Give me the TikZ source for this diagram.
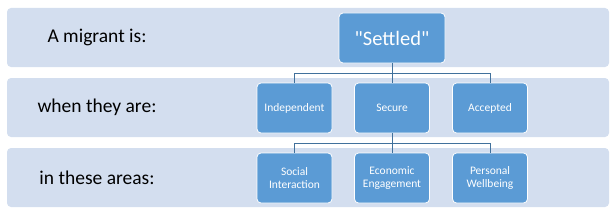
\documentclass[tikz,border=0pt]{standalone}
\usepackage{fontspec}
\setmainfont{Carlito}
\newfontfamily\quotefont{Carlito}
\definecolor{bandblue}{RGB}{211,222,239}
\definecolor{boxblue}{RGB}{91,155,213}
\definecolor{lineblue}{RGB}{65,113,156}
\tikzset{
  band/.style={fill=bandblue,rounded corners=4pt},
  box/.style={draw=white,line width=0.8pt,fill=boxblue,rounded corners=4pt,text=white,
    minimum width=75pt,minimum height=50pt,align=center,font=\fontsize{11.5}{13}\selectfont},
  rowlabel/.style={font=\fontsize{19.5}{22}\selectfont},
  conn/.style={draw=lineblue,line width=0.9pt}
}
\begin{document}
\begin{tikzpicture}[x=1pt,y=1pt]
    \useasboundingbox (0,0) rectangle (615,212);
    \fill[band] (7,145) rectangle (609,204);
    \fill[band] (7,75) rectangle (609,134);
    \fill[band] (7,5) rectangle (609,64);
    \node[rowlabel] (lblmigrant) at (97,174.5) {A migrant is:};
    \node[rowlabel] (lblwhen) at (97,104.5) {when they are:};
    \node[rowlabel] (lblareas) at (97,34.5) {in these areas:};
    \node[box,minimum width=106pt,font=\quotefont\fontsize{20.5}{24}\selectfont] (settled) at (392,174) {"Settled"};
    \node[box] (indep) at (294.5,104) {Independent};
    \node[box] (secure) at (392,104) {Secure};
    \node[box] (accept) at (490,104) {Accepted};
    \node[box] (social) at (294.5,34) {Social\\Interaction};
    \node[box] (econ) at (392,34) {Economic\\Engagement};
    \node[box] (personal) at (490,34) {Personal\\Wellbeing};
    \draw[conn] (settled.south) -- ++(0,-10) -| (indep.north);
    \draw[conn] (settled.south) -- ++(0,-10) -| (accept.north);
    \draw[conn] (settled.south) -- (secure.north);
    \draw[conn] (secure.south) -- ++(0,-10) -| (social.north);
    \draw[conn] (secure.south) -- ++(0,-10) -| (personal.north);
    \draw[conn] (secure.south) -- (econ.north);
\end{tikzpicture}
\end{document}
